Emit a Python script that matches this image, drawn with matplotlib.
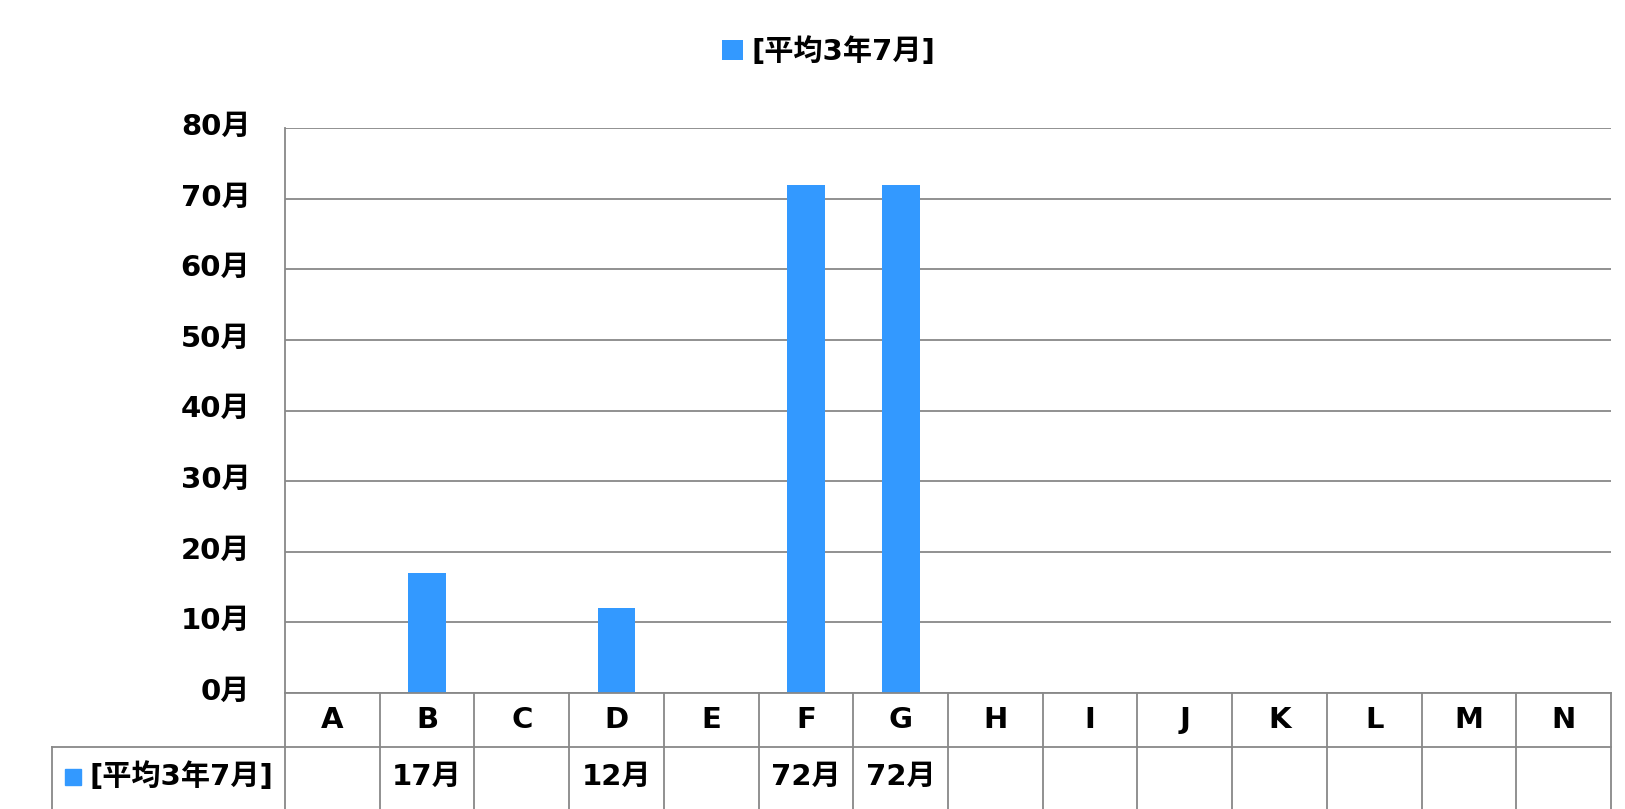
import matplotlib
matplotlib.use("Agg")
import matplotlib.pyplot as plt
from matplotlib.patches import Patch
from matplotlib.transforms import blended_transform_factory, ScaledTranslation

# data
categories = ["A", "B", "C", "D", "E", "F", "G", "H", "I", "J", "K", "L", "M", "N"]
values = [None, 17, None, 12, None, 72, 72, None, None, None, None, None, None, None]
series_name = "[平均3年7月]"
y_ticks = [0, 10, 20, 30, 40, 50, 60, 70, 80]
unit = "月"

bar_color = "#3399FF"
grid_color = "#888888"
fs = 21

plt.rcParams["font.family"] = ["DejaVu Sans", "Noto Sans CJK JP"]
plt.rcParams["font.weight"] = "bold"

W, H = 1625, 809
fig = plt.figure(figsize=(W / 100, H / 100), dpi=100)
fig.patch.set_facecolor("white")


def px_axes(left, top, right, bottom):
    return fig.add_axes([left / W, 1 - bottom / H, (right - left) / W, (bottom - top) / H])


# main plot area
ax = px_axes(285, 128, 1611, 693)
x = list(range(len(categories)))
bx = [i for i, v in zip(x, values) if v is not None]
bv = [v for v in values if v is not None]
ax.bar(bx, bv, width=0.4, color=bar_color, zorder=3)
ax.set_xlim(-0.5, len(categories) - 0.5)
ax.set_ylim(0, 80)
ax.set_yticks(y_ticks)
ax.set_yticklabels([f"{v}{unit}" for v in y_ticks], fontsize=fs, fontweight="bold")
ax.tick_params(axis="y", length=0, pad=25)
ax.set_xticks([])
offset = ScaledTranslation(0, 3 / 72, fig.dpi_scale_trans)
for lbl in ax.get_yticklabels():
    lbl.set_transform(lbl.get_transform() + offset)
ax.grid(axis="y", color=grid_color, linewidth=1.3, zorder=0)
for s in ["top", "right", "bottom"]:
    ax.spines[s].set_visible(False)
ax.spines["left"].set_color(grid_color)
ax.spines["left"].set_linewidth(1.3)

# data table below the plot
tab = px_axes(285, 693, 1611, 809)
tab.set_xlim(-0.5, len(categories) - 0.5)
tab.set_ylim(2.15, 0)
tab.axis("off")
lw = 1.3
for i in range(len(categories) + 1):
    tab.plot([i - 0.5, i - 0.5], [0, 2.15], color=grid_color, lw=lw, clip_on=False)
tab.plot([-0.5, len(categories) - 0.5], [0, 0], color=grid_color, lw=lw, clip_on=False)
tr = blended_transform_factory(tab.transAxes, tab.transData)
lab_left = (52 - 285) / 1326
tab.plot([lab_left, 1], [1, 1], color=grid_color, lw=lw, clip_on=False, transform=tr)
tab.plot([lab_left, lab_left], [1, 2.15], color=grid_color, lw=lw, clip_on=False, transform=tr)
for i, c in enumerate(categories):
    tab.text(i, 0.5, c, ha="center", va="center", fontsize=fs, fontweight="bold")
for i, v in enumerate(values):
    if v is not None:
        tab.text(i, 1.55, f"{v}{unit}", ha="center", va="center", fontsize=fs, fontweight="bold")
tab.plot([(72.5 - 285) / 1326], [1.55], marker="s", markersize=12, color=bar_color,
         clip_on=False, transform=tr)
tab.text((89 - 285) / 1326, 1.55, series_name, ha="left", va="center", fontsize=fs,
         fontweight="bold", transform=tr)

# legend
handle = Patch(facecolor=bar_color, edgecolor="none", label=series_name)
fig.legend(handles=[handle], loc="center", bbox_to_anchor=(829 / W, 1 - 52 / H),
           frameon=False, prop={"size": fs, "weight": "bold"},
           handlelength=0.7, handleheight=0.7, handletextpad=0.3)

fig.savefig("out.png", dpi=100, facecolor="white")
